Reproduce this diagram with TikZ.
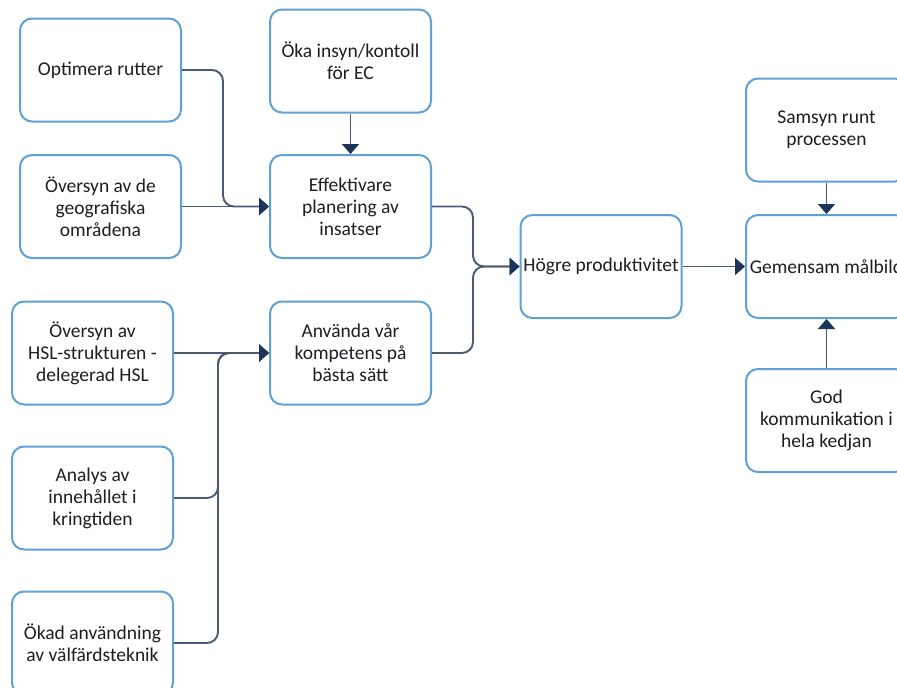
\documentclass[tikz,border=0pt]{standalone}
\usepackage{fontspec}
\setmainfont{Carlito}
\usetikzlibrary{arrows.meta,calc}
\definecolor{boxblue}{RGB}{95,160,215}
\definecolor{linegray}{RGB}{75,90,115}
\definecolor{navy}{RGB}{28,52,88}
\definecolor{txt}{RGB}{30,30,35}
\begin{document}
\begin{tikzpicture}[x=1pt,y=-1pt,
  box/.style={draw=boxblue,line width=2pt,rounded corners=12pt,fill=white,
    minimum width=161pt,minimum height=103pt,align=center,text=txt,
    font=\fontsize{19.5}{22}\selectfont,inner sep=2pt},
  conn/.style={draw=linegray,line width=1.9pt,rounded corners=11pt},
  arr/.style={conn,-{Triangle[length=10pt,width=17pt,color=navy]}}]
\useasboundingbox (0,0) rectangle (897,688);
\clip (0,0) rectangle (897,688);
\fill[white] (0,0) rectangle (897,688);
% left column
\node[box] (opt) at (100.5,70) {Optimera rutter};
\node[box] (geo) at (100.5,206.5) {Översyn av de\\geografiska\\områdena};
\node[box] (hsl) at (92.5,353) {Översyn av\\HSL-strukturen -\\delegerad HSL};
\node[box] (ana) at (92.5,498) {Analys av\\innehållet i\\kringtiden};
\node[box] (okd) at (92.5,643) {Ökad användning\\av välfärdsteknik};
% middle column
\node[box] (oka) at (350.5,61) {Öka insyn/kontoll\\för EC};
\node[box] (eff) at (350.5,206.5) {Effektivare\\planering av\\insatser};
\node[box] (anv) at (350.5,353) {Använda vår\\kompetens på\\bästa sätt};
% right
\node[box] (hog) at (601,266.5) {Högre produktivitet};
\node[box] (gem) at (826.5,266.5) {Gemensam målbild};
\node[box] (sam) at (826.5,130) {Samsyn runt\\processen};
\node[box] (god) at (826.5,420.5) {God\\kommunikation i\\hela kedjan};
% junction coordinates
\coordinate (j1) at (223,0);
\coordinate (j2) at (218,0);
\coordinate (j3) at (473,0);
% connectors
\draw[arr] (opt.east) -- (opt.east -| j1) |- (eff.west);
\draw[arr] (geo.east) -- (eff.west);
\draw[arr] (oka.south) -- (eff.north);
\draw[arr] (hsl.east) -- (anv.west);
\draw[arr] (ana.east) -- (ana.east -| j2) |- (anv.west);
\draw[arr] (okd.east) -- (okd.east -| j2) |- (anv.west);
\draw[arr] (eff.east) -- (eff.east -| j3) |- (hog.west);
\draw[arr] (anv.east) -- (anv.east -| j3) |- (hog.west);
\draw[arr] (hog.east) -- (gem.west);
\draw[arr] (sam.south) -- (gem.north);
\draw[arr] (god.north) -- (gem.south);
\end{tikzpicture}
\end{document}
